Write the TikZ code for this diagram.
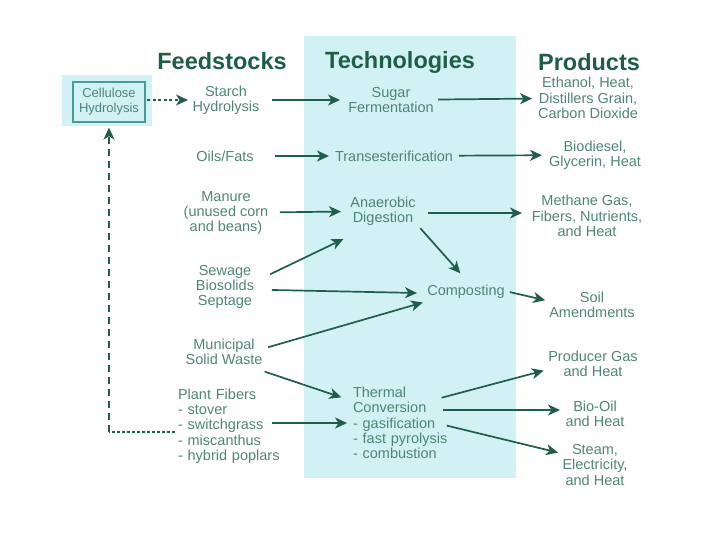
\documentclass[tikz,border=0pt]{standalone}
\usepackage{fontspec}
\setmainfont{Liberation Sans}
\usetikzlibrary{arrows.meta}
\definecolor{techbg}{HTML}{D2F1F4}
\definecolor{arrowgreen}{HTML}{1F5E4A}
\definecolor{headgreen}{HTML}{1E5E45}
\definecolor{textgreen}{HTML}{4E8577}
\definecolor{boxedge}{HTML}{4A9A95}

\begin{document}
\begin{tikzpicture}[x=1pt, y=-1pt,
    every node/.style={text=textgreen, align=center, inner sep=0pt,
      font=\fontsize{14.5}{15.3}\selectfont},
    head/.style={text=headgreen, font=\fontsize{23.5}{26}\selectfont\bfseries},
    list/.style={align=left, text width=#1},
    link/.style={draw=arrowgreen, line width=1.7pt},
    flow/.style={link, -{Stealth[length=12pt, width=11pt, inset=3.5pt]}}]
  \useasboundingbox (0, 0) rectangle (720, 540);
  \fill[techbg] (304, 36) rectangle (516, 478);
  \fill[techbg] (62, 75) rectangle (152, 126);

  \node[head] (Feed) at (222, 61) {Feedstocks};
  \node[head] (Tech) at (400, 62) {Technologies};
  \node[head] (Prod) at (589, 62) {Products};

  \node[draw=boxedge, line width=1.3pt, minimum width=72pt, minimum height=40pt,
    font=\fontsize{13}{15}\selectfont] (CH) at (109, 102) {Cellulose\\Hydrolysis};
  \node (SH) at (226, 100) {Starch\\Hydrolysis};
  \node (SF) at (391, 100) {Sugar\\Fermentation};
  \node (EH) at (588, 98) {Ethanol, Heat,\\Distillers Grain,\\Carbon Dioxide};
  \node (OF) at (225, 156) {Oils/Fats};
  \node (TE) at (394, 156) {Transesterification};
  \node (BG) at (595, 155) {Biodiesel,\\Glycerin, Heat};
  \node (MA) at (226, 213) {Manure\\(unused corn\\and beans)};
  \node (AD) at (383, 211) {Anaerobic\\Digestion};
  \node (MG) at (587, 216) {Methane Gas,\\Fibers, Nutrients,\\and Heat};
  \node (SB) at (225, 287) {Sewage\\Biosolids\\Septage};
  \node (CO) at (466, 292) {Composting};
  \node (SA) at (592, 305) {Soil\\Amendments};
  \node (MW) at (224, 352) {Municipal\\Solid Waste};
  \node[list=110pt] (PF) at (233, 426) {Plant Fibers\\- stover\\- switchgrass\\- miscanthus\\- hybrid poplars};
  \node[list=100pt] (TC) at (403, 423) {Thermal\\Conversion\\- gasification\\- fast pyrolysis\\- combustion};
  \node (PG) at (593, 364) {Producer Gas\\and Heat};
  \node (BO) at (595, 414) {Bio-Oil\\and Heat};
  \node (SE) at (595, 465) {Steam,\\Electricity,\\and Heat};
  \coordinate (turn) at (109, 432);

  % feedstock to technology to product
  \draw[flow, dash pattern=on 3pt off 2.5pt, shorten <=38pt, shorten >=38pt] ([yshift=2pt]CH.center) to (SH.center);
  \draw[flow, shorten <=46pt, shorten >=51pt] (SH.center) to (SF.center);
  \draw[flow, shorten <=47pt, shorten >=56pt] (SF.center) to (EH.center);
  \draw[flow, shorten <=50pt, shorten >=65pt] (OF.center) to (TE.center);
  \draw[flow, shorten <=65pt, shorten >=53pt] (TE.center) to (BG.center);
  \draw[flow, shorten <=54pt, shorten >=42pt] (MA.center) to (AD.center);
  \draw[flow, shorten <=45pt, shorten >=65pt] ([yshift=-2pt]AD.center) to ([yshift=3pt]MG.center);
  \draw[flow, shorten <=50pt, shorten >=44pt] ([yshift=-9pt]SB.center) to ([yshift=-9pt]AD.center);
  \draw[flow, shorten <=47pt, shorten >=49pt] ([yshift=-2pt]SB.center) to ([yshift=-2pt]CO.center);
  \draw[flow, shorten <=23pt, shorten >=25pt] ([xshift=22pt]AD.center) to ([xshift=11pt]CO.center);
  \draw[flow, shorten <=46pt, shorten >=45pt] ([yshift=-8pt]MW.center) to ([yshift=2pt]CO.center);
  \draw[flow, shorten <=45pt, shorten >=48pt] ([yshift=10pt]CO.center) to ([yshift=-6pt]SA.center);
  \draw[flow, shorten <=43pt, shorten >=65pt] ([yshift=-6pt]MW.center) to ([yshift=5pt]TC.center);
  \draw[flow, shorten <=39pt, shorten >=56pt] ([yshift=3pt]PF.center) to (TC.center);
  \draw[flow, shorten <=40pt, shorten >=51pt] ([yshift=15pt]TC.center) to ([yshift=6.5pt]PG.center);
  \draw[flow, shorten <=40pt, shorten >=35pt] ([yshift=13pt]TC.center) to ([yshift=4pt]BO.center);
  \draw[flow, shorten <=45pt, shorten >=38pt] ([yshift=8pt]TC.center) to ([yshift=3.5pt]SE.center);

  % plant fibers back to cellulose
  \draw[link, dash pattern=on 3pt off 2pt, shorten <=58pt] ([yshift=-6pt]PF.center) -- (turn);
  \draw[flow, dash pattern=on 7pt off 5pt, shorten >=5pt] (turn) -- (CH);
\end{tikzpicture}
\end{document}
